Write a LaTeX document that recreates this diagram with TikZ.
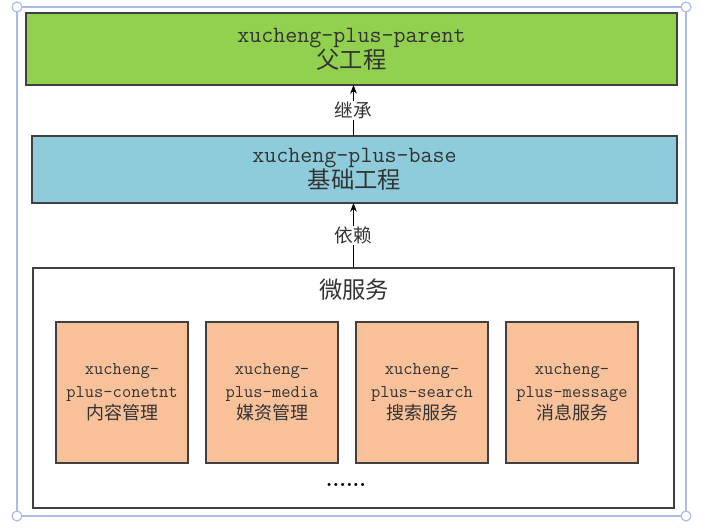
\documentclass[tikz,border=0pt]{standalone}
\usepackage{fontspec}
\newfontfamily\cjk{Noto Sans CJK SC}
\usetikzlibrary{arrows.meta,positioning}
\definecolor{parentgreen}{HTML}{92D050}
\definecolor{baseblue}{HTML}{8ECCDB}
\definecolor{svcorange}{HTML}{F8C19A}
\definecolor{selblue}{HTML}{A9BEE6}
\tikzset{
  layer/.style={draw=black!75, line width=0.8pt, rectangle, align=center, inner sep=0pt, outer sep=0pt, text=black!80, font=\ttfamily\fontsize{17.5}{18.5}\selectfont},
  svc/.style={draw=black!75, line width=0.8pt, rectangle, fill=svcorange, align=center, inner sep=0pt, outer sep=0pt, text=black!80, minimum width=99pt, minimum height=105.75pt, font=\ttfamily\fontsize{13.5}{16.8}\selectfont},
  arr/.style={-{Stealth[length=2.3mm]}, thin},
  lbl/.style={fill=white, inner sep=1pt, text=black!80, font=\cjk\fontsize{14}{14}\selectfont},
  selframe/.style={draw=selblue, line width=0.9pt},
  handle/.style={draw=selblue, fill=white, line width=0.9pt},
}

\begin{document}
\begin{tikzpicture}[x=0.75pt, y=-0.75pt, node distance=13.5pt]
\useasboundingbox (0,0) rectangle (703,530);
% selection frame of the picture
\draw[selframe] (17,7) rectangle (686,516);
\foreach \p in {(17,7),(686,7),(686,516),(17,516)} \draw[handle] \p circle (5);
% layers
\node[layer, fill=parentgreen, minimum width=488.25pt, minimum height=54pt] (parent) at (351.5,49) {xucheng-plus-parent\\{\cjk 父工程}};
\node[layer, fill=baseblue, minimum width=483.75pt, minimum height=50.25pt] (base) at (354.5,169.5) {xucheng-plus-base\\{\cjk 基础工程}};
\node[layer, minimum width=480.75pt, minimum height=180pt] (micro) at (353.5,388) {};
\node[text=black!80, font=\cjk\fontsize{17.5}{18}\selectfont] (mstitle) at (354,290) {微服务};
% services
\node[svc] (content) at (122,392.5) {xucheng-\\plus-conetnt\\{\cjk 内容管理}};
\node[svc, right=of content] (media) {xucheng-\\plus-media\\{\cjk 媒资管理}};
\node[svc, right=of media] (search) {xucheng-\\plus-search\\{\cjk 搜索服务}};
\node[svc, right=of search] (message) {xucheng-\\plus-message\\{\cjk 消息服务}};
\node[font=\bfseries\fontsize{16}{16}\selectfont] (more) at (346,485) {......};
% relations
\draw[arr] (micro.north) -- (micro.north |- base.south) node[lbl, midway] (dep) {依赖};
\draw[arr] (base.north -| micro.north) -- (micro.north |- parent.south) node[lbl, midway] (inh) {继承};
\end{tikzpicture}
\end{document}
